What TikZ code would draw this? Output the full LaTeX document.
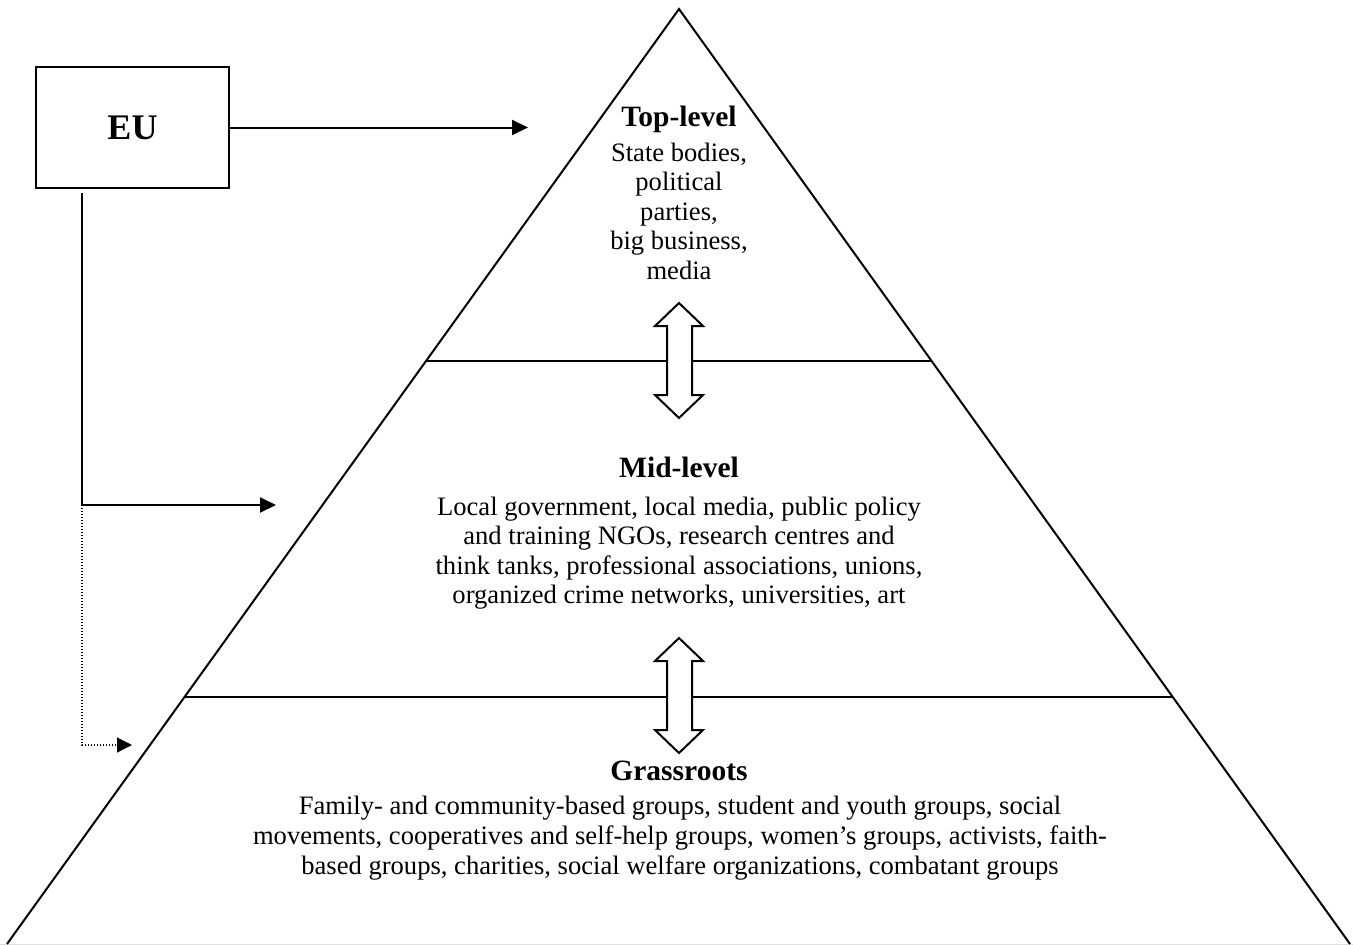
\documentclass[tikz,border=0pt]{standalone}
\usepackage{fontspec}
\setmainfont{Liberation Serif}
\usetikzlibrary{arrows.meta,calc}
\begin{document}
\begin{tikzpicture}[x=1pt,y=-1pt,line join=miter,
  edge/.style={line width=2pt},
  conn/.style={line width=2pt,-{Triangle[length=16pt,width=15pt]}},
  dotconn/.style={line width=1.2pt,dash pattern=on 1.2pt off 1.8pt,-{Triangle[length=15pt,width=15pt]}},
  title/.style={font=\fontsize{29.5}{32}\selectfont\bfseries,inner sep=0pt},
  body/.style={font=\fontsize{26.6}{29.5}\selectfont,align=center,inner sep=0pt},
  dblarrow/.style={line width=2pt,fill=white}
]
\useasboundingbox (0,0) rectangle (1353,945);
% pyramid
\coordinate (apex) at (679,9);
\coordinate (bl) at (7,944);
\coordinate (br) at (1350,944);
\draw[gray!25,line width=1pt] (0,944) -- (1353,944);
\draw[edge] (bl) -- (apex) -- (br);
\coordinate (l1) at ($(apex)!0.3765!(bl)$);
\coordinate (r1) at ($(apex)!0.3765!(br)$);
\coordinate (l2) at ($(apex)!0.7358!(bl)$);
\coordinate (r2) at ($(apex)!0.7358!(br)$);
\draw[edge] (l1) -- (r1);
\draw[edge] (l2) -- (r2);
% double arrows
\draw[dblarrow] (679,303) -- (703,326) -- (692,326) -- (692,395) -- (703,395) -- (679,418)
  -- (655,395) -- (667,395) -- (667,326) -- (655,326) -- cycle;
\draw[dblarrow] (679,638) -- (703,661) -- (692,661) -- (692,730) -- (703,730) -- (679,753)
  -- (655,730) -- (667,730) -- (667,661) -- (655,661) -- cycle;
% texts
\node[title] (toptitle) at (679,119) {Top-level};
\node[body] (topbody) at (679,211) {State bodies,\\political\\parties,\\big business,\\media};
\node[title] (midtitle) at (679,467) {Mid-level};
\node[body] (midbody) at (679,553) {Local government, local media, public policy\\and training NGOs, research centres and\\think tanks, professional associations, unions,\\organized crime networks, universities, art};
\node[title] (grasstitle) at (679,771) {Grassroots};
\node[body,font=\fontsize{26.6}{30}\selectfont] (grassbody) at (680,838) {Family- and community-based groups, student and youth groups, social\\movements, cooperatives and self-help groups, women’s groups, activists, faith-\\based groups, charities, social welfare organizations, combatant groups};
% EU
\node[draw,line width=2pt,minimum width=193pt,minimum height=121pt,inner sep=0pt,
  font=\fontsize{36}{40}\selectfont\bfseries] (EU) at (132.5,127.5) {EU};
\coordinate (topIn) at (528,127.5);
\draw[conn] (EU.east) -- (topIn);
\coordinate (euDown) at (82,193);
\coordinate (midCorner) at (82,505);
\coordinate (midIn) at (276,505);
\draw[conn] (euDown) -- (midCorner) -- (midIn);
\coordinate (grassCorner) at (82,745);
\coordinate (grassIn) at (132,745);
\draw[dotconn] (midCorner) -- (grassCorner) -- (grassIn);
\end{tikzpicture}
\end{document}
